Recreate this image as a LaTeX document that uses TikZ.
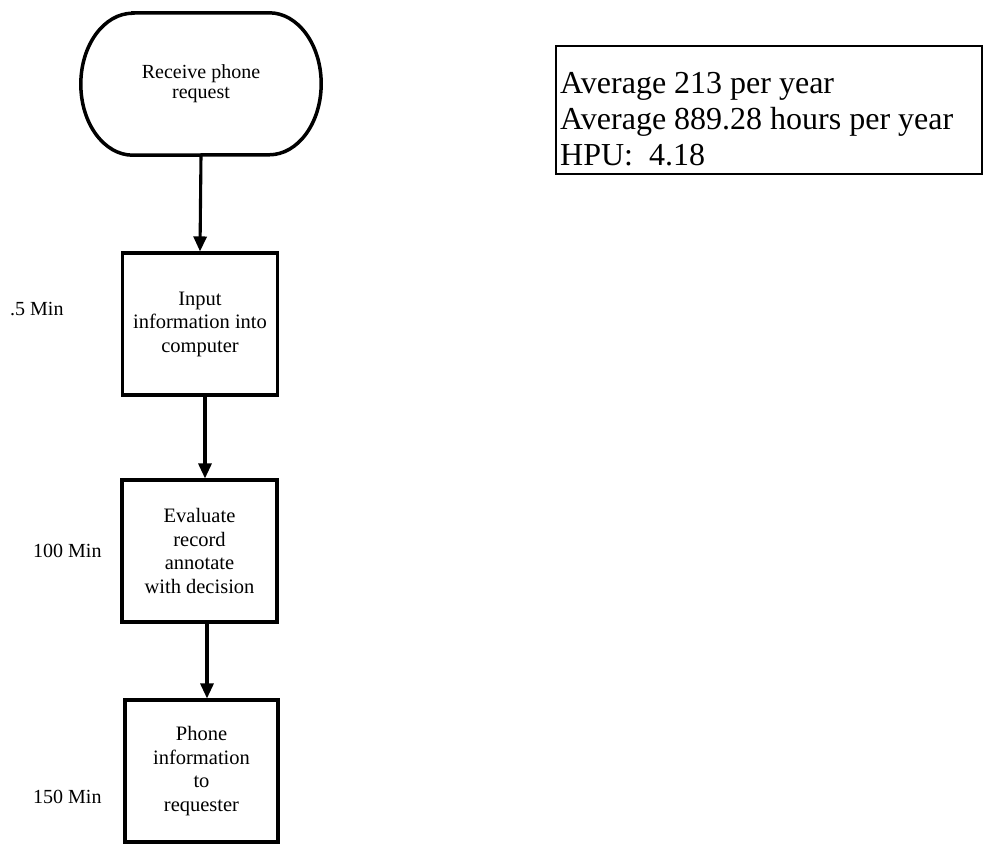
\documentclass[tikz,border=0pt]{standalone}
\usepackage{fontspec}
\setmainfont{Liberation Serif}
\usetikzlibrary{arrows.meta}

\tikzset{
  flowline/.style={line width=3.1pt},
  stepbox/.style={draw, flowline, minimum width=155pt, minimum height=142pt,
    align=center, inner sep=2pt, font=\fontsize{20.5}{23.5}\selectfont},
  termshape/.style={minimum width=240pt, minimum height=142pt, align=center,
    inner sep=0pt, font=\fontsize{20}{20}\selectfont},
  arr/.style={flowline, -{Triangle[length=15pt,width=13pt]}},
  timelabel/.style={anchor=base west, inner sep=0pt, font=\fontsize{20}{24}\selectfont},
  infobox/.style={draw, line width=2pt, minimum width=426pt, minimum height=128pt},
  infotext/.style={anchor=north west, inner sep=0pt, align=left,
    font=\fontsize{32}{36}\selectfont}
}

\begin{document}
\begin{tikzpicture}[x=1pt, y=1pt]
\useasboundingbox (0,0) rectangle (985,-845);

% start terminal (stadium with elliptic ends)
\node[termshape] (start) at (201,-84) {Receive phone\\request};
\draw[flowline, line width=3.5pt]
  ([xshift=52pt]start.north west) -- ([xshift=-52pt]start.north east)
  arc[start angle=90, end angle=-90, x radius=52pt, y radius=71pt]
  -- ([xshift=52pt]start.south west)
  arc[start angle=270, end angle=90, x radius=52pt, y radius=71pt] -- cycle;

% process steps
\node[stepbox] (input) at (200,-324) {Input\\information into\\computer};
\node[stepbox] (eval) at (199.5,-551) {Evaluate\\record\\annotate\\with decision};
\node[stepbox, minimum width=153pt] (phone) at (201.5,-771) {Phone\\information\\to\\requester};

% connectors
\draw[arr] (start.south) -- (input.north);
\draw[arr] ([xshift=5pt]input.south) -- ([xshift=5pt]input.south |- eval.north);
\draw[arr] ([xshift=7.5pt]eval.south) -- ([xshift=7.5pt]eval.south |- phone.north);

% step durations
\node[timelabel] (t1) at (10,-315) {.5 Min};
\node[timelabel] (t2) at (33,-557) {100 Min};
\node[timelabel] (t3) at (33,-803) {150 Min};

% summary figures
\node[infobox, anchor=north west] (info) at (555,-45) {};
\node[infotext] (infotxt) at ([shift={(5pt,-27pt)}]info.north west)
  {Average 213 per year\\Average 889.28 hours per year\\HPU:\ \ 4.18};
\end{tikzpicture}
\end{document}
